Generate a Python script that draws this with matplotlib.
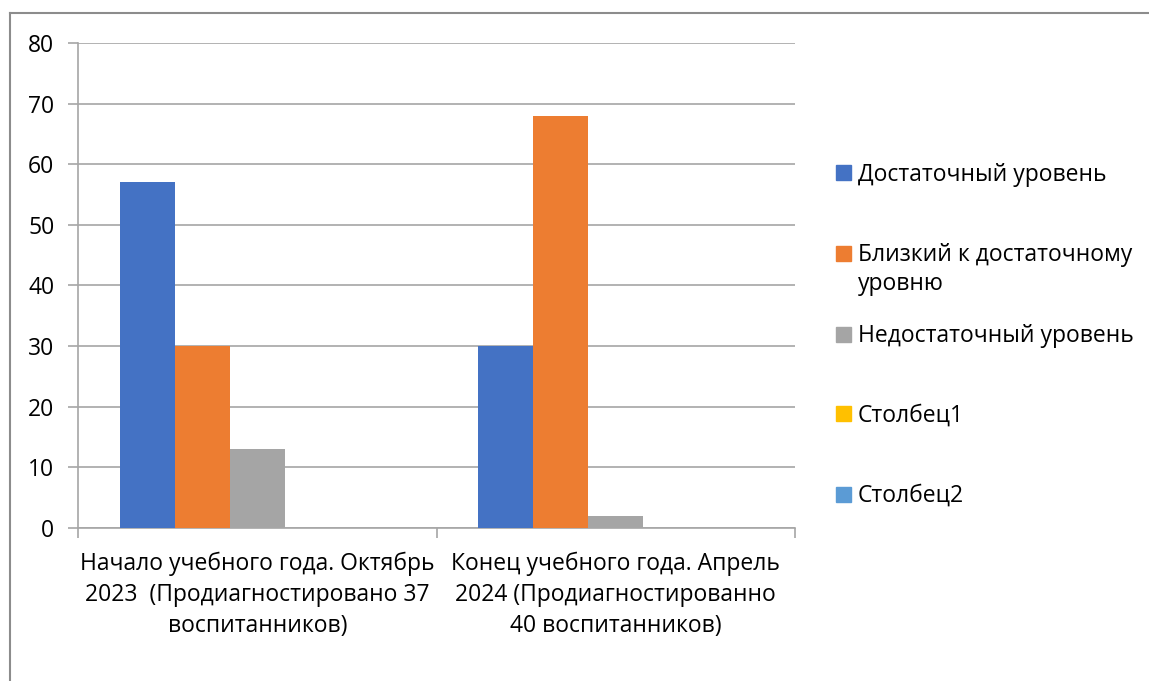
import numpy as np
import matplotlib
matplotlib.use("Agg")
import matplotlib.pyplot as plt
from matplotlib.lines import Line2D
from matplotlib.patches import Rectangle

plt.rcParams['font.family'] = ['Open Sans', 'DejaVu Sans']

categories = [
    "Начало учебного года. Октябрь\n2023  (Продиагностировано 37\nвоспитанников)",
    "Конец учебного года. Апрель\n2024 (Продиагностированно\n40 воспитанников)",
]
series_names = ["Достаточный уровень", "Близкий к достаточному\nуровню",
                "Недостаточный уровень", "Столбец1", "Столбец2"]
dostatochny = [57, 30]
blizkiy = [30, 68]
nedostatochny = [13, 2]
stolbec1 = [0, 0]
stolbec2 = [0, 0]
colors = ["#4472C4", "#ED7D31", "#A5A5A5", "#FFC000", "#5B9BD5"]
yticks = [0, 10, 20, 30, 40, 50, 60, 70, 80]

values = [dostatochny, blizkiy, nedostatochny, stolbec1, stolbec2]
fs = 16.5

fig = plt.figure(figsize=(11.49, 6.81), dpi=100)
ax = fig.add_axes([0.0679, 0.2247, 0.624, 0.7122])

x = np.arange(len(categories))
w = 0.1536
for i, (vals, c) in enumerate(zip(values, colors)):
    ax.bar(x + (i - 2) * w, vals, width=w, color=c, linewidth=0, zorder=3)

ax.set_xlim(-0.5, 1.5)
ax.set_ylim(0, 80)
ax.set_yticks(yticks)
ax.yaxis.grid(True, color="#A6A6A6", linewidth=1.2, zorder=0)
ax.tick_params(axis="y", length=7, width=1.2, color="#A6A6A6", labelsize=fs, pad=10)

ax.set_xticks(x)
ax.set_xticklabels(categories, fontsize=fs, linespacing=1.4)
ax.tick_params(axis="x", which="major", length=0, pad=17)
ax.set_xticks([-0.5, 0.5, 1.5], minor=True)
ax.tick_params(axis="x", which="minor", length=7, width=1.2, color="#A6A6A6")

for s in ["top", "right"]:
    ax.spines[s].set_visible(False)
for s in ["left", "bottom"]:
    ax.spines[s].set_color("#A6A6A6")
    ax.spines[s].set_linewidth(1.2)

# chart frame (partially visible)
fig.add_artist(Line2D([0.0087, 0.0087], [0.0, 0.981], color="#8C8C8C", lw=1.5))
fig.add_artist(Line2D([0.0087, 1.0], [0.981, 0.981], color="#8C8C8C", lw=1.5))

# legend placed like the original
leg_y = [173, 253, 334, 414, 494]
for name, c, yy in zip(series_names, colors, leg_y):
    yf = 1 - yy / 681
    fig.add_artist(Rectangle((836 / 1149, yf - 7.5 / 681), 15 / 1149, 15 / 681,
                             transform=fig.transFigure, color=c))
    fig.text(858 / 1149, yf + 10 / 681, name, fontsize=fs, va="top", ha="left",
             linespacing=1.3)

fig.savefig("out.png", dpi=100)
